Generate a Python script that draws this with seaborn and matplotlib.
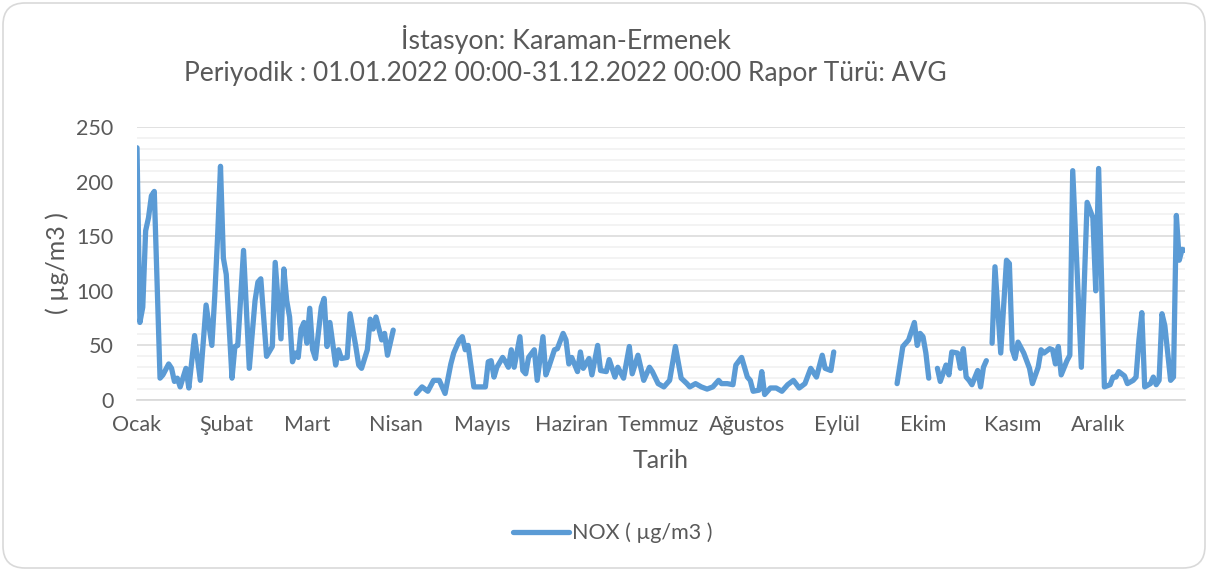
import numpy as np
import pandas as pd
import matplotlib
import matplotlib.pyplot as plt
import matplotlib.patches as mpatches
from matplotlib.lines import Line2D
from matplotlib.ticker import MultipleLocator
import seaborn as sns

# day of year (0 = 1 Jan 2022) and daily NOX averages
# nan marks the days with no data, where the line breaks
days = [0, 1, 2, 3, 4, 5, 6, 8, 9, 11, 12, 13, 14, 15, 17, 18, 20, 22, 24, 26,
        27, 28, 29, 30, 31, 33, 34, 35, 37, 39, 41, 42, 43, 45, 47, 48, 50, 51,
        52, 53, 54, 55, 56, 57, 58, 59, 60, 61, 62, 64, 65, 66, 67, 69, 70, 71,
        73, 74, 76, 77, 78, 80, 81, 82, 83, 85, 86, 87, 89, 90,
        97, 99, 101, 103, 105, 107, 109, 110, 112, 113, 114, 115, 117, 119, 121,
        122, 123, 124, 125, 127, 128, 129, 130, 131, 133, 134, 135, 136, 138,
        139, 141, 142, 143, 145, 146, 148, 149, 150, 151, 153, 154, 155, 157,
        158, 160, 161, 163, 164, 166, 167, 169, 171, 172, 174, 176, 178, 179,
        181, 183, 185, 187, 189, 191, 192, 194, 196, 198, 200, 202, 203, 205,
        207, 208, 210, 212, 213, 214, 216, 217, 218, 220, 222, 224, 226, 228,
        230, 232, 234, 236, 238, 239, 241, 242, 243,
        264, 266, 268, 270, 271, 272, 273, 274, 275, 276,
        278, 279, 281, 282, 283, 285, 286, 287, 288, 289, 290, 292, 293, 294,
        295, 296,
        297, 298, 300, 302, 303, 304, 305, 306, 308, 309, 310, 311, 313, 314,
        315, 317, 318, 319, 320, 321, 323, 324, 325, 328, 330, 332, 333, 334,
        336, 338, 339, 340, 341, 343, 344, 346, 347, 348, 349, 350, 352, 353,
        354, 355, 356, 357, 359, 360, 361, 362, 363, 364]
nox = [231, 71, 85, 155, 167, 187, 191, 20, 23, 33, 29, 17, 20, 12, 29, 11, 59,
       18, 87, 50, 95, 150, 214, 130, 115, 20, 49, 50, 137, 29, 91, 108, 111,
       40, 49, 126, 56, 120, 91, 76, 35, 43, 39, 65, 71, 52, 84, 46, 38, 85,
       93, 49, 71, 32, 46, 38, 39, 79, 49, 32, 29, 46, 74, 65, 76, 55, 61, 41,
       64, np.nan,
       6, 12, 8, 18, 18, 6, 33, 43, 55, 58, 46, 50, 12, 12, 12, 35, 36, 21, 30,
       39, 35, 30, 46, 30, 58, 27, 24, 39, 46, 18, 58, 23, 30, 46, 47, 61, 55,
       33, 39, 26, 44, 29, 38, 23, 50, 27, 26, 37, 21, 30, 20, 49, 24, 41, 18,
       30, 26, 15, 12, 18, 49, 20, 15, 12, 15, 12, 10, 12, 18, 15, 15, 14, 32,
       39, 21, 18, 8, 9, 26, 5, 11, 11, 8, 14, 18, 11, 15, 29, 21, 41, 29, 27,
       44, np.nan,
       15, 49, 55, 71, 50, 61, 58, 43, 20, np.nan,
       29, 17, 32, 23, 44, 43, 29, 47, 21, 18, 14, 27, 12, 30, 36, np.nan,
       52, 122, 43, 128, 125, 46, 38, 53, 43, 36, 29, 15, 30, 46, 43, 47, 46,
       33, 49, 23, 36, 41, 210, 30, 181, 167, 100, 212, 12, 14, 21, 21, 26, 22,
       15, 18, 21, 55, 80, 12, 15, 21, 14, 18, 79, 68, 18, 21, 169, 128, 138,
       137]

month_starts = [0, 31, 59, 90, 120, 151, 181, 212, 243, 273, 304, 334, 364]
month_names = ["Ocak", "Şubat", "Mart", "Nisan", "Mayıs", "Haziran", "Temmuz",
               "Ağustos", "Eylül", "Ekim", "Kasım", "Aralık", ""]

df = pd.DataFrame({"day": days, "nox": nox})
df["seg"] = df["nox"].isna().cumsum()
df = df.dropna()

sns.set_theme(style="white")
plt.rcParams["font.family"] = ["Lato", "DejaVu Sans"]

grey = "#595959"
blue = "#5b9bd5"

fig = plt.figure(figsize=(12.08, 5.71), dpi=100)
ax = fig.add_axes([137 / 1208, 1 - 400 / 571, 1048 / 1208, 273 / 571])

sns.lineplot(data=df, x="day", y="nox", units="seg", estimator=None,
             color=blue, linewidth=3.8, ax=ax, legend=False)

ax.set_xlim(0, 364)
ax.set_ylim(0, 250)
ax.yaxis.set_major_locator(MultipleLocator(50))
ax.yaxis.set_minor_locator(MultipleLocator(10))
ax.grid(which="major", axis="y", color="#d9d9d9", linewidth=1.1)
ax.grid(which="minor", axis="y", color="#f0f0f0", linewidth=1.1)
ax.set_axisbelow(True)

ax.set_xticks(month_starts)
ax.set_xticklabels(month_names)
ax.tick_params(axis="x", length=5, labelcolor=grey, labelsize=15.5, pad=6)
ax.tick_params(axis="y", length=0, labelcolor=grey, labelsize=15.5, pad=17)
for t in ax.get_xticklines():
    t.set_color("#d9d9d9")

for s in ["left", "right", "top"]:
    ax.spines[s].set_visible(False)
ax.spines["bottom"].set_color("#d9d9d9")

ax.set_xlabel("Tarih", fontsize=18, color=grey, labelpad=10)
ax.set_ylabel("( µg/m3 )", fontsize=18, color=grey, labelpad=5)

fig.text(566 / 1208, 1 - 40 / 571, "İstasyon: Karaman-Ermenek", ha="center",
         va="center", fontsize=19.3, color=grey)
fig.text(565 / 1208, 1 - 74 / 571,
         "Periyodik : 01.01.2022 00:00-31.12.2022 00:00 Rapor Türü: AVG",
         ha="center", va="center", fontsize=19, color=grey)

handle = Line2D([], [], color=blue, linewidth=3.8)
fig.legend([handle], ["NOX ( µg/m3 )"], loc="center", bbox_to_anchor=(613 / 1208, 1 - 533 / 571),
           frameon=False, fontsize=15.5, labelcolor=grey, handlelength=2.6, handletextpad=0.15)

border = mpatches.FancyBboxPatch((3, 3), 1202, 565,
                                 boxstyle="round,pad=0,rounding_size=22",
                                 transform=matplotlib.transforms.IdentityTransform(),
                                 facecolor="none", edgecolor="#d9d9d9", linewidth=1.2)
fig.add_artist(border)

fig.savefig("out.png", dpi=100, facecolor="white")
